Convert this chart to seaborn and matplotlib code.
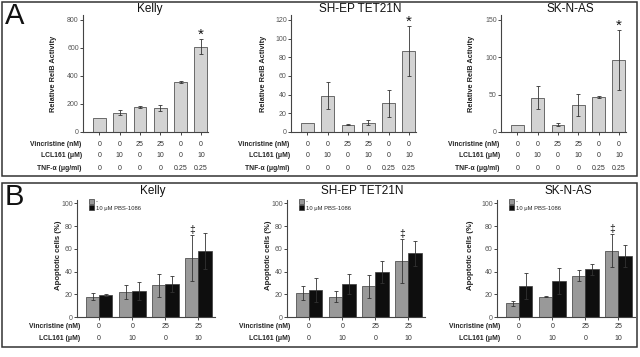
"""
RelB activity (A) and apoptosis (B) bar panels for three cell lines.
"""

import pandas as pd
import seaborn as sns
import matplotlib.pyplot as plt
from matplotlib.patches import Rectangle

sns.set_style("ticks")
plt.rcParams["font.family"] = ["Liberation Sans", "DejaVu Sans"]

# panel A data
cell_lines = ["Kelly", "SH-EP TET21N", "SK-N-AS"]
vinc_a = ["0", "0", "25", "25", "0", "0"]
lcl_a = ["0", "10", "0", "10", "0", "10"]
tnf_a = ["0", "0", "0", "0", "0.25", "0.25"]
relb_kelly = [100, 138, 180, 172, 357, 610]
relb_kelly_err = [0, 18, 5, 22, 8, 55]
relb_shep = [10, 39, 8, 10, 31, 87]
relb_shep_err = [0, 14.5, 1, 3, 14.5, 26.5]
relb_skn = [10, 46, 10, 36, 47, 96]
relb_skn_err = [0, 15, 1.5, 14.5, 1, 40]
relb_ticks = [[0, 200, 400, 600, 800], [0, 20, 40, 60, 80, 100, 120],
              [0, 50, 100, 150]]

# panel B data
vinc_b = ["0", "0", "25", "25"]
lcl_b = ["0", "10", "0", "10"]
treatments = ["-", "10 \u03bcM PBS-1086"]
apo_kelly_ctrl = [18, 22, 28, 52]
apo_kelly_ctrl_err = [3, 6, 10, 20]
apo_kelly_pbs = [19.5, 23, 29, 58]
apo_kelly_pbs_err = [1, 8, 7, 16]
apo_shep_ctrl = [21, 18, 27, 49]
apo_shep_ctrl_err = [6, 4.5, 10, 19.5]
apo_shep_pbs = [24, 29, 39.5, 56]
apo_shep_pbs_err = [10.5, 9, 10, 11]
apo_skn_ctrl = [12, 18, 36.5, 58.5]
apo_skn_ctrl_err = [2.5, 0.7, 4.5, 14.5]
apo_skn_pbs = [27.5, 32, 42, 53.5]
apo_skn_pbs_err = [11.5, 11.5, 5, 9.5]

W, H = 640, 357


def px_rect(left, top, right, bottom):
    """ convert a pixel box (from top-left) to figure fraction """
    return [left / W, 1 - bottom / H, (right - left) / W, (bottom - top) / H]


def style_axis(axis):
    sns.despine(ax=axis)
    for side in ["left", "bottom"]:
        axis.spines[side].set_linewidth(0.8)
        axis.spines[side].set_color("#444444")
    axis.tick_params(axis="y", labelsize=5, colors="#444444",
                     length=2.5, width=0.7, pad=0.5, labelcolor="#555555")
    axis.tick_params(axis="x", length=2, width=0.7, colors="#444444")
    axis.set_xticklabels([])
    axis.set_xlabel("")


def panel_a(axis, values, errors, ticks, label_x):
    data = pd.DataFrame({
        "cond": [f"{v}/{l}/{t}" for v, l, t in zip(vinc_a, lcl_a, tnf_a)],
        "value": values})
    sns.barplot(data=data, x="cond", y="value", color="#d3d3d3",
                saturation=1, width=0.63, edgecolor="#555555",
                linewidth=0.6, errorbar=None, ax=axis)
    bars = axis.containers[0]
    xs = [b.get_x() + b.get_width() / 2 for b in bars]
    for x, v, e in zip(xs, values, errors):
        if e > 0:
            axis.errorbar(x, v, yerr=e, color="#333333", lw=0.6,
                          capsize=1.6, capthick=0.6)
    axis.annotate("*", (xs[-1], values[-1] + errors[-1]), xytext=(0, -2),
                  textcoords="offset points", ha="center", va="bottom",
                  fontsize=11, color="#111111")
    axis.set_xlim(-0.8, 5.35)
    axis.set_ylim(0, ticks[-1] * 117 / 112)
    axis.set_yticks(ticks)
    style_axis(axis)
    axis.set_ylabel("Relative RelB Activity", fontsize=5.3,
                    fontweight="bold", color="#222222")
    axis.yaxis.set_label_coords(label_x, 0.5)
    rows = [("Vincristine (nM)", vinc_a, -0.103),
            ("LCL161 (\u03bcM)", lcl_a, -0.205),
            ("TNF-\u03b1 (\u03bcg/ml)", tnf_a, -0.316)]
    for name, vals, y in rows:
        axis.text(-0.01, y, name, transform=axis.transAxes, ha="right",
                  va="center", fontsize=4.9, fontweight="bold",
                  color="#222222")
        for x, v in zip(xs, vals):
            axis.text(x, y, v, transform=axis.get_xaxis_transform(),
                      ha="center", va="center", fontsize=5,
                      color="#333333")


def panel_b(axis, ctrl, ctrl_err, pbs, pbs_err, label_x):
    conds = [f"{v}/{l}" for v, l in zip(vinc_b, lcl_b)]
    data = pd.DataFrame({
        "cond": conds * 2,
        "treat": [treatments[0]] * 4 + [treatments[1]] * 4,
        "value": ctrl + pbs})
    sns.barplot(data=data, x="cond", y="value", hue="treat",
                hue_order=treatments, palette=["#999999", "#0e0e0e"],
                saturation=1, width=0.8, edgecolor="#3a3a3a",
                linewidth=0.5, errorbar=None, ax=axis)
    for bars, vals, errs in zip(axis.containers, [ctrl, pbs],
                                [ctrl_err, pbs_err]):
        xs = [b.get_x() + b.get_width() / 2 for b in bars]
        axis.errorbar(xs, vals, yerr=errs, fmt="none", ecolor="#333333",
                      lw=0.6, capsize=1.6, capthick=0.6)
        if vals is ctrl:
            axis.annotate("\u2021", (xs[-1], vals[-1] + errs[-1]),
                          xytext=(0, 0), textcoords="offset points",
                          ha="center", va="bottom", fontsize=7.5,
                          color="#111111")
    axis.set_xlim(-0.67, 3.5)
    axis.set_ylim(0, 103)
    axis.set_yticks([0, 20, 40, 60, 80, 100])
    style_axis(axis)
    axis.set_ylabel("Apoptotic cells (%)", fontsize=5.6,
                    fontweight="bold", color="#222222")
    axis.yaxis.set_label_coords(label_x, 0.53)
    axis.legend(loc="upper left", bbox_to_anchor=(0.06, 1.04),
                frameon=False, fontsize=4.2, handlelength=0.9,
                handleheight=0.9, handletextpad=0.3, labelspacing=0.15,
                borderpad=0.1)
    rows = [("Vincristine (nM)", vinc_b, -0.085),
            ("LCL161 (\u03bcM)", lcl_b, -0.188)]
    for name, vals, y in rows:
        axis.text(0.02, y, name, transform=axis.transAxes, ha="right",
                  va="center", fontsize=4.9, fontweight="bold",
                  color="#222222")
        for x, v in zip(range(4), vals):
            axis.text(x, y, v, transform=axis.get_xaxis_transform(),
                      ha="center", va="center", fontsize=5,
                      color="#333333")


def main():
    fig = plt.figure(figsize=(W / 100, H / 100), dpi=100)

    # panel frames
    for top, bottom in [(1.5, 176), (183, 347)]:
        fig.patches.append(Rectangle(
            (2 / W, 1 - bottom / H), 635 / W, (bottom - top) / H,
            transform=fig.transFigure, fill=False, lw=1.1,
            edgecolor="#333333"))
    fig.text(5 / W, 1 - 24 / H, "A", fontsize=21, va="baseline",
             ha="left", color="#111111")
    fig.text(5 / W, 1 - 205 / H, "B", fontsize=21, va="baseline",
             ha="left", color="#111111")

    # panel A
    a_lefts = [83, 291, 501]
    a_title_x = [150, 360, 570]
    a_label_x = [-0.21, -0.19, -0.21]
    a_vals = [relb_kelly, relb_shep, relb_skn]
    a_errs = [relb_kelly_err, relb_shep_err, relb_skn_err]
    for i in range(3):
        ax = fig.add_axes(px_rect(a_lefts[i], 15, a_lefts[i] + 125, 132))
        panel_a(ax, a_vals[i], a_errs[i], relb_ticks[i], a_label_x[i])
        fig.text(a_title_x[i] / W, 1 - 9 / H, cell_lines[i],
                 fontsize=8.5, ha="center", va="center", color="#111111")

    # panel B
    b_lefts = [77, 287, 497]
    b_title_x = [153, 362, 568]
    b_label_x = [-0.11, -0.11, -0.17]
    b_data = [(apo_kelly_ctrl, apo_kelly_ctrl_err, apo_kelly_pbs,
               apo_kelly_pbs_err),
              (apo_shep_ctrl, apo_shep_ctrl_err, apo_shep_pbs,
               apo_shep_pbs_err),
              (apo_skn_ctrl, apo_skn_ctrl_err, apo_skn_pbs,
               apo_skn_pbs_err)]
    for i in range(3):
        ax = fig.add_axes(px_rect(b_lefts[i], 200, b_lefts[i] + 138, 317))
        panel_b(ax, *b_data[i], b_label_x[i])
        fig.text(b_title_x[i] / W, 1 - 191 / H, cell_lines[i],
                 fontsize=8.5, ha="center", va="center", color="#111111")

    plt.savefig("out.png", dpi=100)


if __name__ == '__main__':
    main()
